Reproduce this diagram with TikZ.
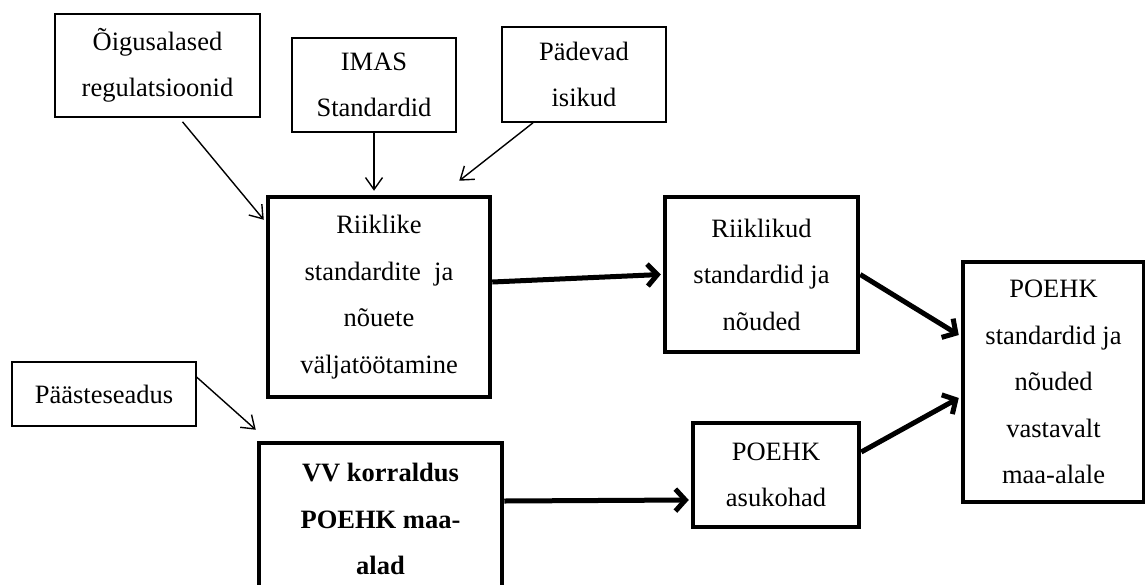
\documentclass[tikz,border=0pt]{standalone}
\usepackage{fontspec}
\setmainfont{Liberation Serif}
\usetikzlibrary{arrows.meta}
\newcommand{\boxfont}{\fontsize{26.5}{46.5}\selectfont}

\begin{document}
\begin{tikzpicture}[x=1pt, y=-1pt,
    thinbox/.style={draw, line width=1.6pt, align=center, inner sep=0pt, font=\boxfont},
    thickbox/.style={draw, line width=4.5pt, align=center, inner sep=0pt, font=\boxfont},
    thinarrow/.style={-{Straight Barb[length=12pt, width=17pt]}, line width=1.4pt},
    thickarrow/.style={-{Straight Barb[length=10pt, width=22pt]}, line width=5pt}]

    \useasboundingbox (0,0) rectangle (1145,584);
    \clip (0,0) rectangle (1145,584);

    % ========== Inputs (top row) ==========
    \node[thinbox, minimum width=205pt, minimum height=103pt] (oigus) at (157.5,65.5)
        {Õigusalased\\regulatsioonid};
    \node[thinbox, minimum width=164pt, minimum height=94pt] (imas) at (374,85)
        {IMAS\\Standardid};
    \node[thinbox, minimum width=164pt, minimum height=95pt] (padev) at (584,74.5)
        {Pädevad\\isikud};

    % ========== Main chain ==========
    \node[thickbox, minimum width=222pt, minimum height=200pt] (riik) at (379,297)
        {Riiklike\\standardite\ \ ja\\nõuete\\väljatöötamine};
    \node[thickbox, minimum width=193pt, minimum height=155pt] (riiknoud) at (761.5,274.5)
        {Riiklikud\\standardid ja\\nõuded};
    \node[thickbox, minimum width=181pt, minimum height=240pt] (poehk) at (1053.5,382)
        {POEHK\\standardid ja\\nõuded\\vastavalt\\maa-alale};

    % ========== Lower chain ==========
    \node[thinbox, minimum width=184pt, minimum height=64pt] (paaste) at (104,394)
        {Päästeseadus};
    \node[thickbox, minimum width=243pt, minimum height=152pt, font=\boxfont\bfseries] (vv) at (380.5,519)
        {VV korraldus\\POEHK maa-\\alad};
    \node[thickbox, minimum width=166pt, minimum height=104pt] (asuk) at (776,475)
        {POEHK\\asukohad};

    % Thin arrows
    \draw[thinarrow] ([xshift=25pt, yshift=-4pt]oigus.south) -- ([xshift=-2pt, yshift=-25pt]riik.north west);
    \draw[thinarrow] (imas.south) -- ([yshift=4pt]imas.south |- riik.north);
    \draw[thinarrow] ([xshift=-51pt]padev.south) -- ([xshift=-33pt, yshift=14pt]riik.north east);
    \draw[thinarrow] ([yshift=-16pt]paaste.north east) -- ([xshift=-1pt, yshift=11pt]vv.north west);

    % Thick arrows
    \draw[thickarrow] ([yshift=15pt]riik.east) -- ([xshift=-2pt]riiknoud.west);
    \draw[thickarrow] (riiknoud.east) -- ([xshift=-2pt, yshift=47pt]poehk.west);
    \draw[thickarrow] ([yshift=18pt]vv.east) -- ([xshift=-2pt, yshift=-25pt]asuk.west);
    \draw[thickarrow] ([yshift=23pt]asuk.east) -- ([xshift=-2pt, yshift=-16pt]poehk.west);

\end{tikzpicture}
\end{document}
